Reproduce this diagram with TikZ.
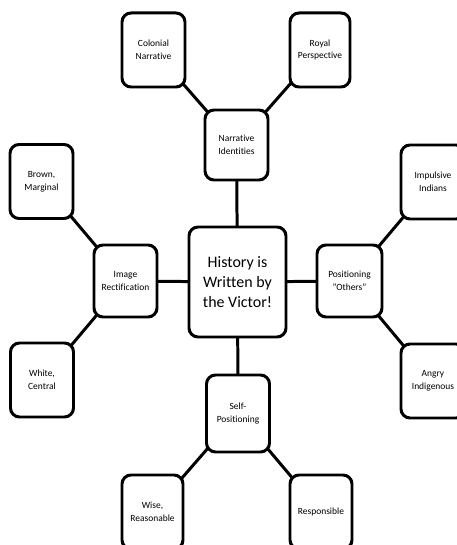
\documentclass[tikz,border=0pt]{standalone}
\usepackage{fontspec}
\setmainfont{Carlito}[Ligatures=NoCommon]
\usetikzlibrary{positioning, backgrounds}

\begin{document}
\begin{tikzpicture}[x=10bp, y=10bp,
          box/.style={draw, line width=3pt, rounded corners=9bp, align=center,
                      fill=white, inner sep=1pt},
          leaf/.style={box, minimum width=63bp, minimum height=74bp,
                       font=\fontsize{9.5}{13}\selectfont},
          hub/.style={box, minimum width=63bp, minimum height=72bp,
                      font=\fontsize{9.5}{13}\selectfont},
          core/.style={box, minimum width=97bp, minimum height=110bp,
                       font=\fontsize{16}{20}\selectfont},
          link/.style={line width=3pt}]
        \useasboundingbox (0,0) rectangle (45.7,54.5);
        \clip (0,0) rectangle (45.7,54.5);
        % centre and the four hubs
        \node[core] (hist) at (23.75,26.3) {History is\\Written by\\the Victor!};
        \node[hub, minimum height=70bp] (narr) at (23.65,40.0) {Narrative\\Identities};
        \node[hub] (image) at (12.55,26.4) {Image\\Rectification};
        \node[hub, minimum width=65bp] (others) at (34.95,26.4) {Positioning\\"Others"};
        \node[hub, minimum height=77bp] (self) at (23.8,13.15) {Self-\\Positioning};
        % leaves
        \node[leaf] (colon) at (15.35,49.5) {Colonial\\Narrative};
        \node[leaf, minimum width=60bp] (royal) at (32.0,49.5) {Royal\\Perspective};
        \node[leaf] (brown) at (4.15,36.35) {Brown,\\Marginal};
        \node[leaf] (white) at (4.2,16.5) {White,\\Central};
        \node[leaf, minimum width=64bp] (impul) at (43.3,36.3) {Impulsive\\Indians};
        \node[leaf, minimum width=64bp] (angry) at (43.3,16.4) {Angry\\Indigenous};
        \node[leaf, minimum width=61bp] (wise) at (15.25,3.3) {Wise,\\Reasonable};
        \node[leaf, minimum width=62bp] (resp) at (32.1,3.3) {Responsible};
        % spokes, behind the boxes
        \begin{pgfonlayer}{background}
        \draw[link] (hist.center) -- (narr.center);
        \draw[link] (hist.center) -- (image.center);
        \draw[link] (hist.center) -- (others.center);
        \draw[link] (hist.center) -- (self.center);
        \draw[link] (colon.center) -- (narr.center);
        \draw[link] (royal.center) -- (narr.center);
        \draw[link] (brown.center) -- (image.center);
        \draw[link] (white.center) -- (image.center);
        \draw[link] (impul.center) -- (others.center);
        \draw[link] (angry.center) -- (others.center);
        \draw[link] (wise.center) -- (self.center);
        \draw[link] (resp.center) -- (self.center);
        \end{pgfonlayer}
      \end{tikzpicture}
\end{document}
